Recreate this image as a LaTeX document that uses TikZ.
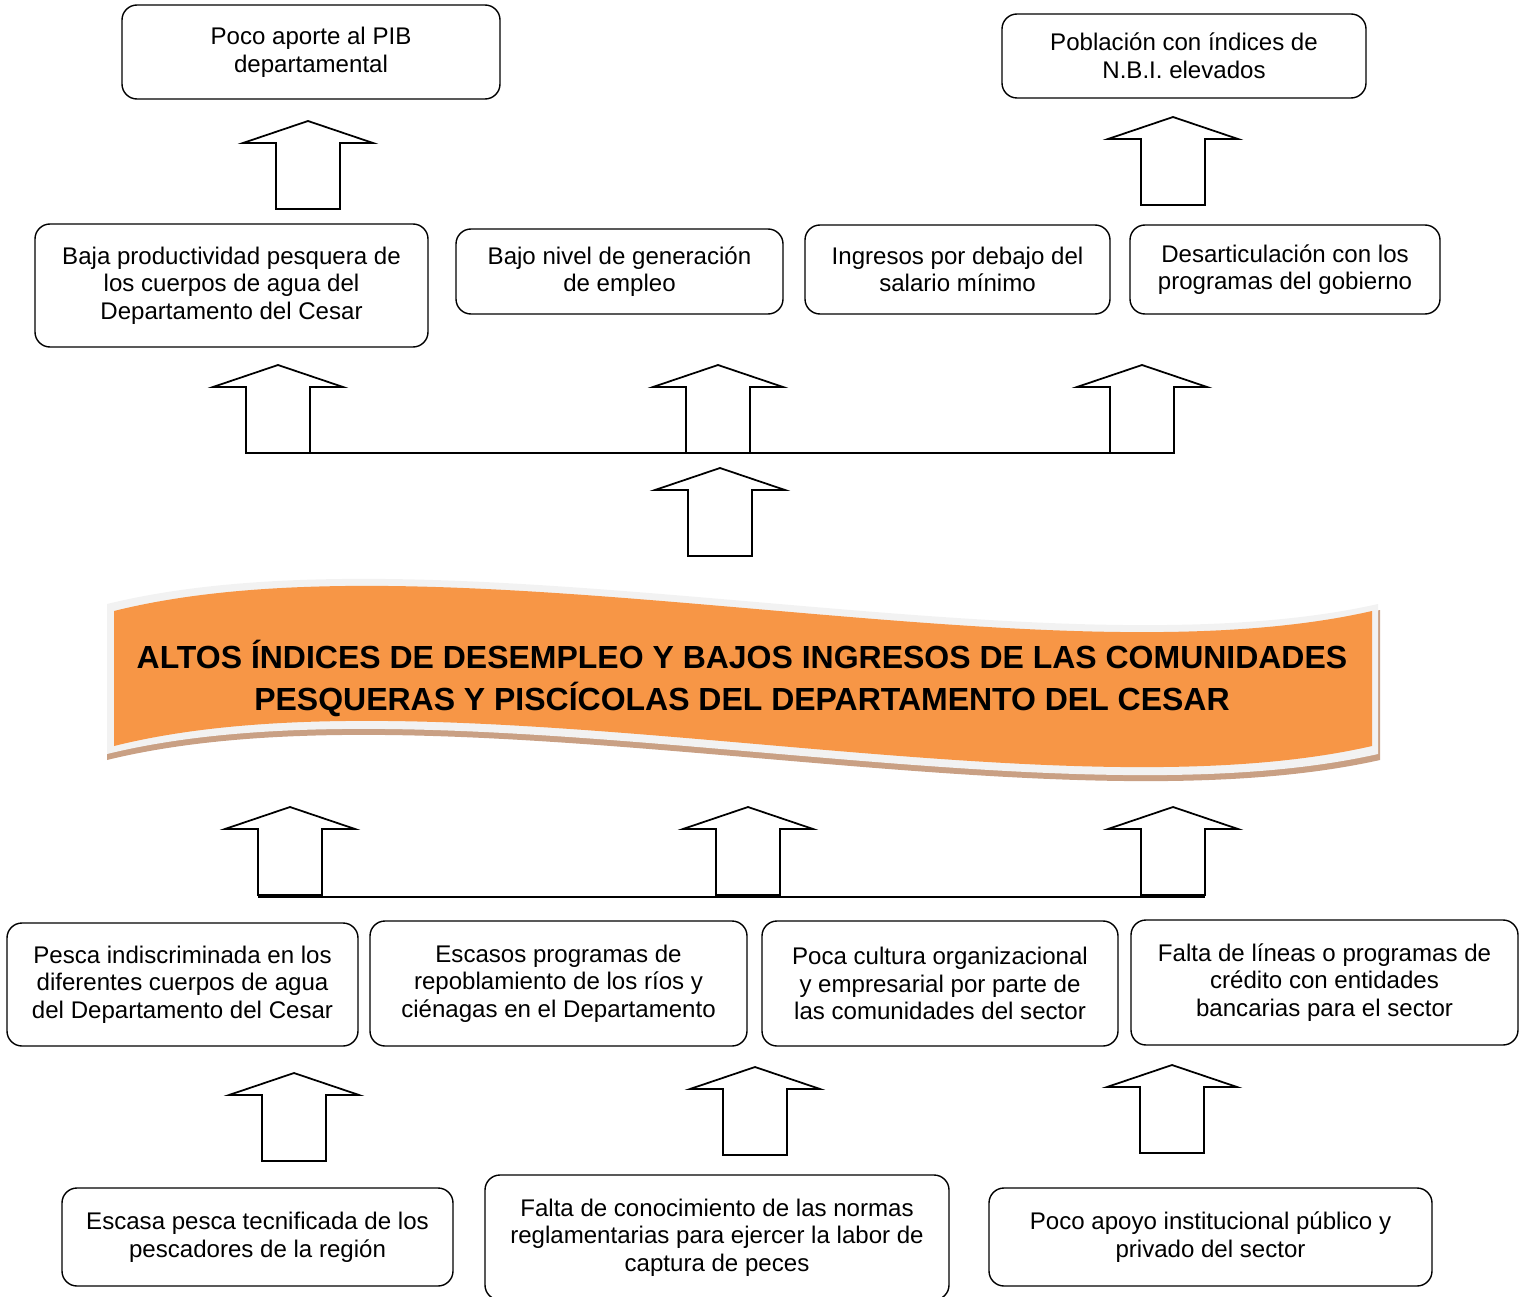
\documentclass[tikz,border=0pt]{standalone}
\usepackage{fontspec}
\setmainfont{Liberation Sans}
\definecolor{bannerorange}{HTML}{F79646}
\definecolor{bannergray}{HTML}{F2F2F2}
\definecolor{bannershadow}{HTML}{C9A084}
\begin{document}
\begin{tikzpicture}[x=0.02cm,y=-0.02cm,
  box/.style={draw=black,line width=0.8pt,rounded corners=0.3cm,align=center,inner sep=0pt,
    font=\fontsize{13.7}{15.7}\selectfont},
  boxsize/.style 2 args={minimum width=#1*0.02cm,minimum height=#2*0.02cm},
  titletext/.style={align=center,inner sep=0pt,font=\fontsize{18.2}{23.9}\selectfont\bfseries},
  bar/.style={line width=0.9pt},
  blockup/.pic={\draw[line width=1pt,fill=white,line join=miter]
    (-32,0) -- (-32,-66) -- (-65,-66) -- (0,-88) -- (65,-66) -- (32,-66) -- (32,0) -- cycle;}]
\useasboundingbox (0,0) rectangle (1528,1297);

\node[box,boxsize={378}{94}] (pib) at (311,52) {Poco aporte al PIB\\departamental};
\node[box,boxsize={364}{84}] (nbi) at (1184,56) {Población con índices de\\N.B.I. elevados};

\node[box,boxsize={393}{123}] (baja) at (231.5,285.5) {Baja productividad pesquera de\\los cuerpos de agua del\\Departamento del Cesar};
\node[box,boxsize={327}{85}] (empleo) at (619.5,271.5) {Bajo nivel de generación\\de empleo};
\node[box,boxsize={305}{89}] (ingresos) at (957.5,269.5) {Ingresos por debajo del\\salario mínimo};
\node[box,boxsize={310}{89}] (gobierno) at (1285,269.5) {Desarticulación con los\\programas del gobierno};

\pic at (308,209) {blockup};
\pic at (1173,205) {blockup};
\pic at (278,453) {blockup};
\pic at (718,453) {blockup};
\pic at (1142,453) {blockup};
\draw[bar] (246,453) -- (1174,453);
\pic at (720,556) {blockup};

\fill[bannershadow] (107,610) .. controls (450,526) and (1040,686) .. (1380,610) -- (1380,760) .. controls (1040,836) and (450,676) .. (107,760) -- cycle;
\fill[bannergray] (107,604) .. controls (450,520) and (1040,680) .. (1378,604) -- (1378,754) .. controls (1040,830) and (450,670) .. (107,754) -- cycle;
\fill[bannerorange] (114,611) .. controls (450,527) and (1040,687) .. (1372,611) -- (1372,746) .. controls (1040,822) and (450,662) .. (114,746) -- cycle;
\node[titletext] (problema) at (742,678) {ALTOS ÍNDICES DE DESEMPLEO Y BAJOS INGRESOS DE LAS COMUNIDADES\\PESQUERAS Y PISCÍCOLAS DEL DEPARTAMENTO DEL CESAR};

\pic at (290,895) {blockup};
\pic at (748,895) {blockup};
\pic at (1173,895) {blockup};
\draw[bar] (258,897) -- (1205,897);

\node[box,boxsize={351}{123}] (pesca) at (182.5,984.5) {Pesca indiscriminada en los\\diferentes cuerpos de agua\\del Departamento del Cesar};
\node[box,boxsize={377}{125}] (repob) at (558.5,983.5) {Escasos programas de\\repoblamiento de los ríos y\\ciénagas en el Departamento};
\node[box,boxsize={356}{125}] (cultura) at (940,983.5) {Poca cultura organizacional\\y empresarial por parte de\\las comunidades del sector};
\node[box,boxsize={387}{125}] (credito) at (1324.5,982.5) {Falta de líneas o programas de\\crédito con entidades\\bancarias para el sector};

\pic at (294,1161) {blockup};
\pic at (755,1155) {blockup};
\pic at (1172,1153) {blockup};

\node[box,boxsize={391}{98}] (tecnif) at (257.5,1237) {Escasa pesca tecnificada de los\\pescadores de la región};
\node[box,boxsize={464}{125}] (normas) at (717,1237.5) {Falta de conocimiento de las normas\\reglamentarias para ejercer la labor de\\captura de peces};
\node[box,boxsize={443}{98}] (apoyo) at (1210.5,1237) {Poco apoyo institucional público y\\privado del sector};
\end{tikzpicture}
\end{document}
